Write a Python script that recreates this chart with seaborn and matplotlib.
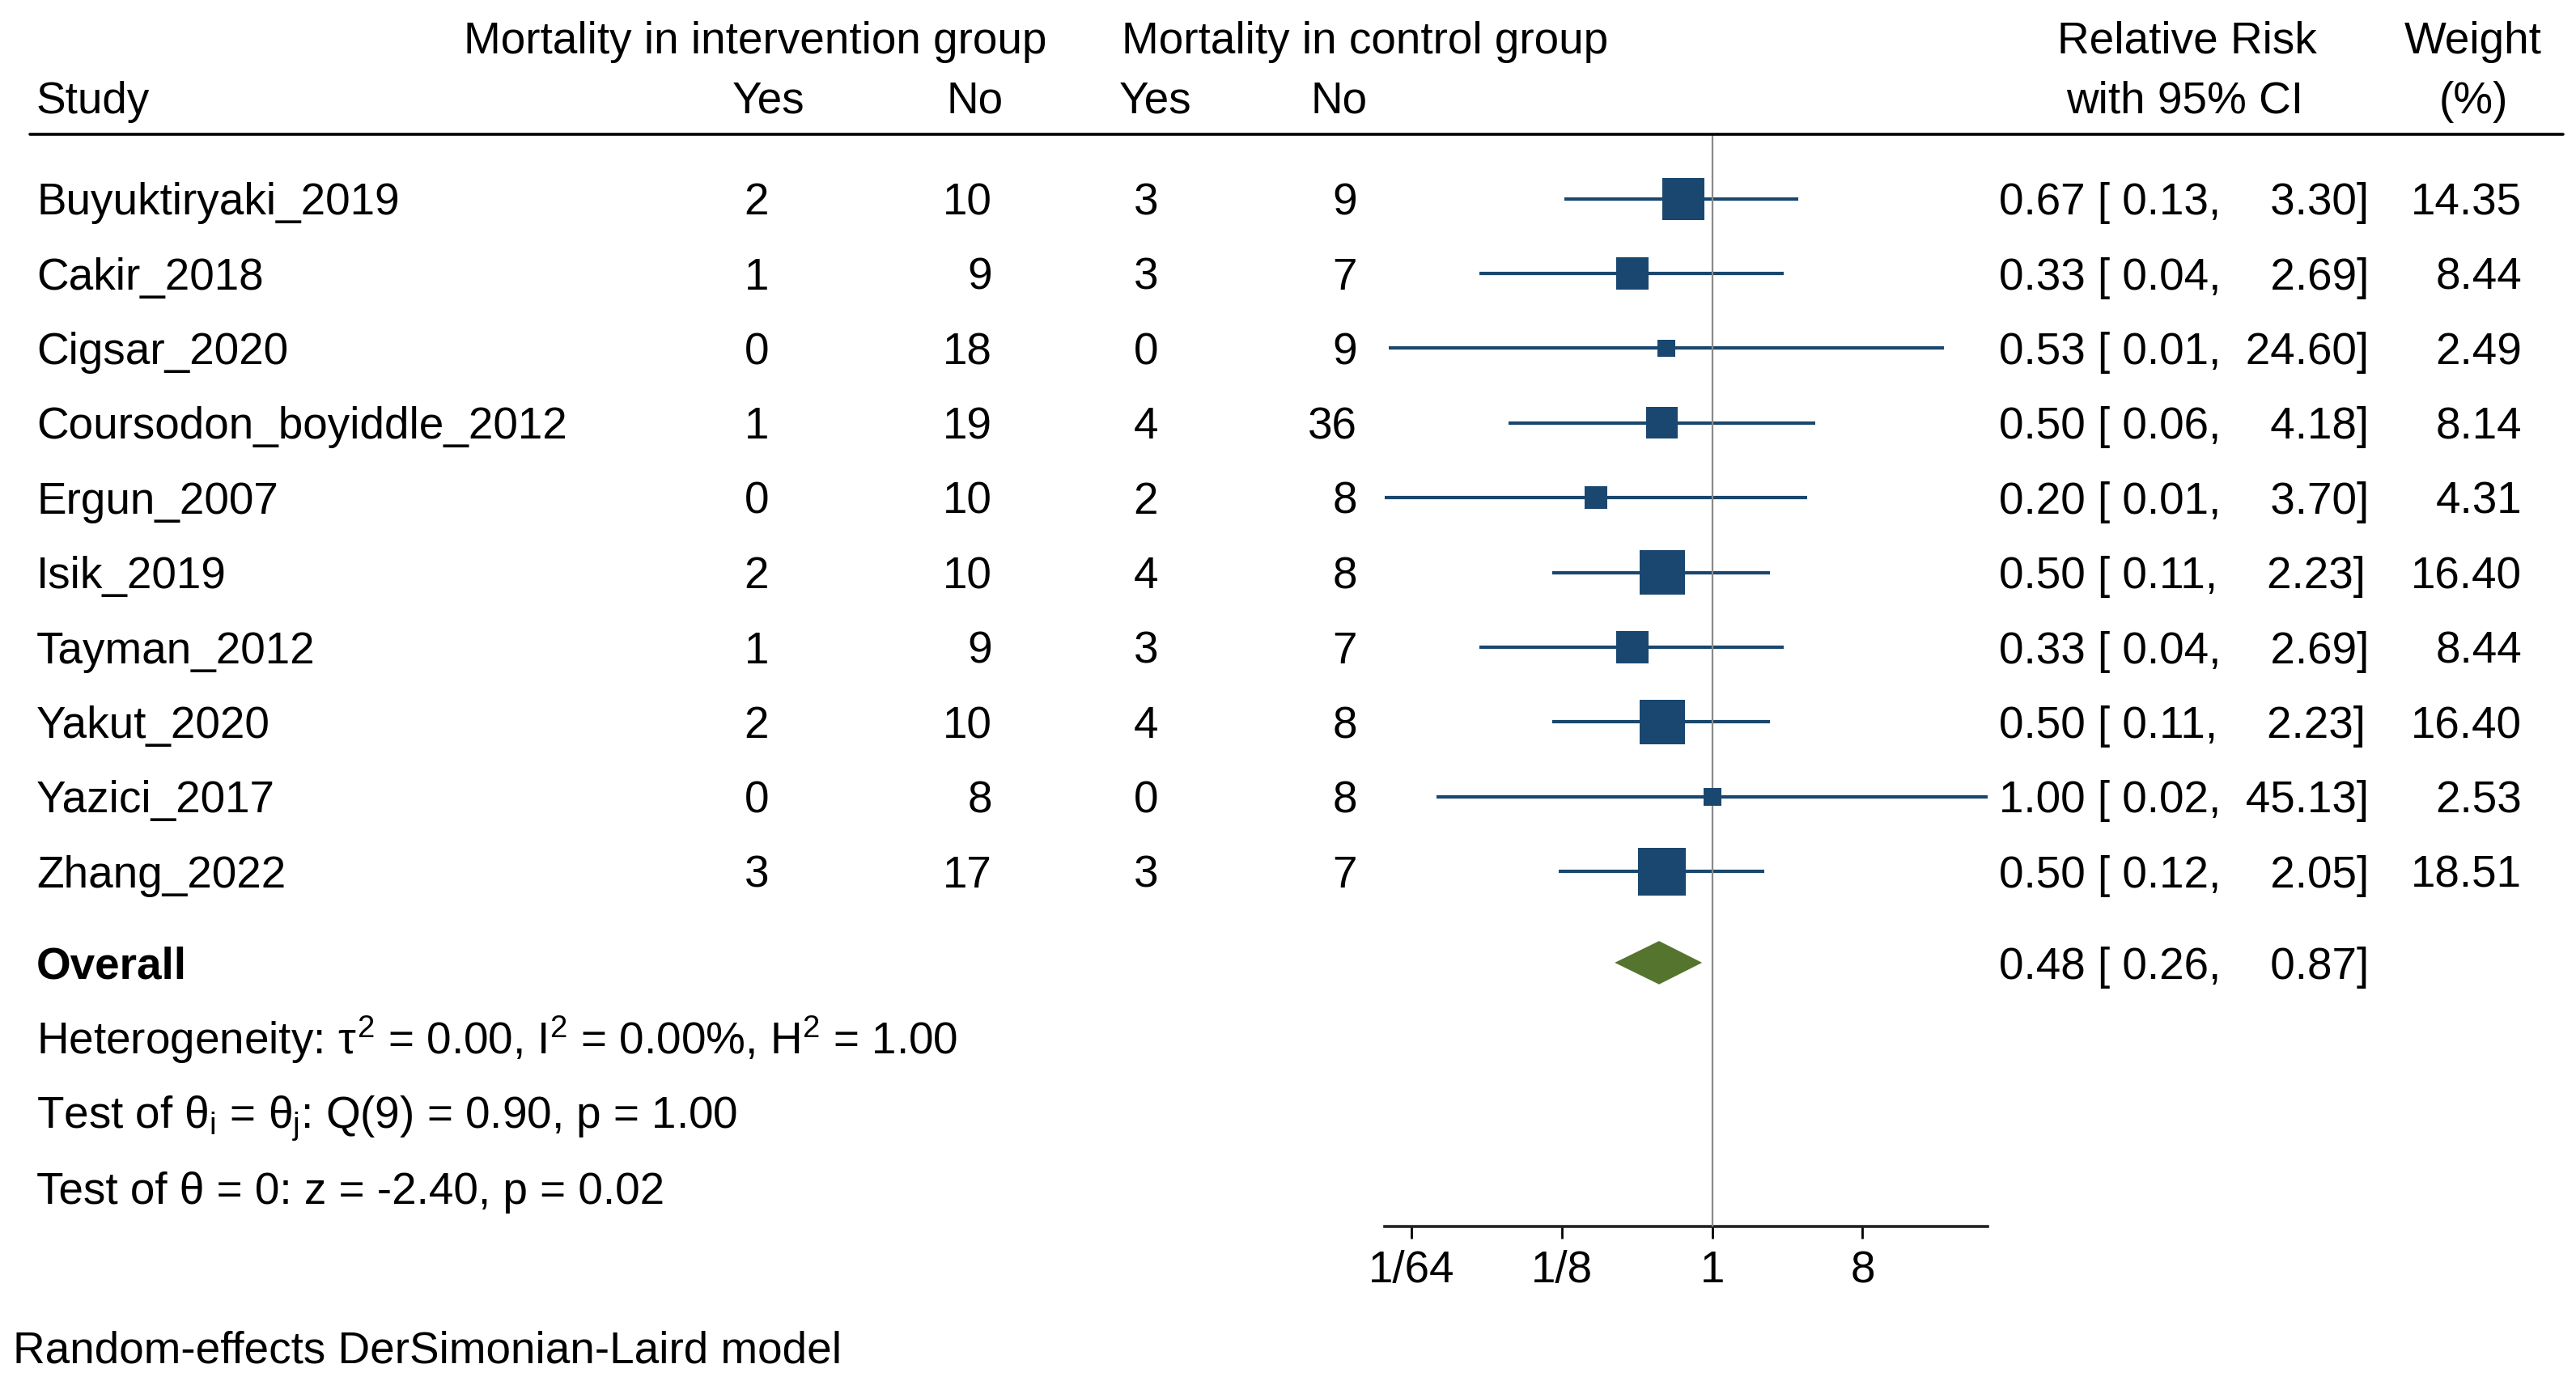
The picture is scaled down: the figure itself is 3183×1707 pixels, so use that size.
import numpy as np
import pandas as pd
import matplotlib
matplotlib.use("Agg")
import matplotlib.pyplot as plt
import matplotlib.transforms as mtransforms
from matplotlib.lines import Line2D
import seaborn as sns

# ---------------- data ----------------
studies = ["Buyuktiryaki_2019", "Cakir_2018", "Cigsar_2020", "Coursodon_boyiddle_2012",
           "Ergun_2007", "Isik_2019", "Tayman_2012", "Yakut_2020", "Yazici_2017", "Zhang_2022"]
int_yes = [2, 1, 0, 1, 0, 2, 1, 2, 0, 3]
int_no = [10, 9, 18, 19, 10, 10, 9, 10, 8, 17]
ctl_yes = [3, 3, 0, 4, 2, 4, 3, 4, 0, 3]
ctl_no = [9, 7, 9, 36, 8, 8, 7, 8, 8, 7]
rr = [0.67, 0.33, 0.53, 0.50, 0.20, 0.50, 0.33, 0.50, 1.00, 0.50]
ci_lo = [0.13, 0.04, 0.0114, 0.06, 0.0108, 0.11, 0.04, 0.11, 0.0222, 0.12]
ci_hi = [3.30, 2.69, 24.60, 4.18, 3.70, 2.23, 2.69, 2.23, 45.13, 2.05]
weight = [14.35, 8.44, 2.49, 8.14, 4.31, 16.40, 8.44, 16.40, 2.53, 18.51]
overall_rr, overall_lo, overall_hi = 0.48, 0.26, 0.87
tick_vals = [1 / 64, 1 / 8, 1, 8]
tick_labels = ["1/64", "1/8", "1", "8"]
stats_lines = [
    r"Heterogeneity: $\tau^2$ = 0.00, I$^2$ = 0.00%, H$^2$ = 1.00",
    r"Test of $\theta_{\mathrm{i}}$ = $\theta_{\mathrm{j}}$: Q(9) = 0.90, p = 1.00",
    "Test of \u03b8 = 0: z = -2.40, p = 0.02",
]
footnote = "Random-effects DerSimonian-Laird model"

# ---------------- style ----------------
sns.set_theme(style="white")
plt.rcParams["font.family"] = ["Liberation Sans", "DejaVu Sans"]
plt.rcParams["mathtext.fontset"] = "custom"
plt.rcParams["mathtext.rm"] = "Liberation Sans"
plt.rcParams["mathtext.it"] = "Liberation Sans"
plt.rcParams["mathtext.bf"] = "Liberation Sans:bold"

W, H = 3183, 1707
FS = 39.5
NAVY = "#1a476f"
GREEN = "#55752f"

fig = plt.figure(figsize=(W / 100, H / 100), dpi=100)
fig.patch.set_facecolor("white")
ax_left, ax_right = 1711, 2456
ax_top, ax_bot = 166, 1516
ax = fig.add_axes([ax_left / W, 1 - ax_bot / H, (ax_right - ax_left) / W, (ax_bot - ax_top) / H])
ax.set_xscale("log", base=2)

row0_px, row_step = 245.6, 92.4
ax.set_ylim((ax_bot - row0_px) / row_step, (ax_top - row0_px) / row_step)
ax.set_xlim(min(ci_lo), max(ci_hi))

pos = list(range(len(studies)))
overall_pos = 10.22
stats_pos = [11.23, 12.22, 13.23]
header_pos = [-2.16, -1.36]
foot_pos = 15.36

# CI lines
ax.hlines(pos, ci_lo, ci_hi, color=NAVY, lw=3.0, zorder=2)
# reference line at 1
ax.axvline(1, color="#8a8a8a", lw=1.6, zorder=3)
# squares sized by weight
df = pd.DataFrame({"rr": rr, "pos": pos, "weight": weight})
sns.scatterplot(data=df, x="rr", y="pos", size="weight", sizes=(0, 98 * 100), size_norm=(0, 100),
                marker="s", color=NAVY, linewidth=0, legend=False, ax=ax, zorder=4)
# overall diamond
hh = 0.29
ax.fill([overall_lo, overall_rr, overall_hi, overall_rr],
        [overall_pos, overall_pos - hh, overall_pos, overall_pos + hh],
        color=GREEN, lw=0, zorder=4)

# axes styling
for s in ["top", "left", "right"]:
    ax.spines[s].set_visible(False)
ax.spines["bottom"].set_linewidth(2.6)
ax.spines["bottom"].set_color("#222222")
ax.set_xticks(tick_vals)
ax.set_xticklabels(tick_labels)
ax.xaxis.set_minor_locator(matplotlib.ticker.NullLocator())
ax.tick_params(axis="x", direction="out", length=11, width=2, pad=10, labelsize=FS, colors="black", bottom=True)
ax.set_yticks([])
ax.set_xlabel("")
ax.set_ylabel("")

trans = mtransforms.blended_transform_factory(fig.transFigure, ax.transData)
# half cap height (in row units) so that the cap-height centre sits on the row position
half_cap = 0.716 * FS / 72 * 100 / 2 / row_step


def txt(xpx, y, s, ha="left", **kw):
    ax.text(xpx / W, y + half_cap, s, transform=trans, ha=ha, va="baseline", fontsize=FS,
            clip_on=False, color="black", **kw)


# header
txt(933, header_pos[0], "Mortality in intervention group", ha="center")
txt(1687, header_pos[0], "Mortality in control group", ha="center")
txt(2702, header_pos[0], "Relative Risk", ha="center")
txt(3056, header_pos[0], "Weight", ha="center")
txt(45, header_pos[1], "Study")
txt(950, header_pos[1], "Yes", ha="center")
txt(1205, header_pos[1], "No", ha="center")
txt(1428, header_pos[1], "Yes", ha="center")
txt(1655, header_pos[1], "No", ha="center")
txt(2700, header_pos[1], "with 95% CI", ha="center")
txt(3056, header_pos[1], "(%)", ha="center")

rule_y = (ax_top - row0_px) / row_step
fig.add_artist(Line2D([37 / W, 3167 / W], [rule_y, rule_y], transform=trans, color="black", lw=2.6))


def ci_text(r, lo, hi):
    pad = "  " if hi >= 10 else "    "
    return f"{r:.2f} [ {lo:.2f},{pad}{hi:.2f}]"


for i in pos:
    txt(45, i, studies[i])
    txt(950, i, str(int_yes[i]), ha="right")
    txt(1226, i, str(int_no[i]), ha="right")
    txt(1431, i, str(ctl_yes[i]), ha="right")
    txt(1677, i, str(ctl_no[i]), ha="right")
    txt(2470, i, ci_text(rr[i], ci_lo[i], ci_hi[i]))
    txt(3116, i, f"{weight[i]:.2f}", ha="right")

txt(45, overall_pos, "Overall", fontweight="bold")
txt(2470, overall_pos, ci_text(overall_rr, overall_lo, overall_hi))
for y, s in zip(stats_pos, stats_lines):
    txt(45, y, s)
txt(16, foot_pos, footnote)

fig.savefig("out.png", dpi=100, facecolor="white")
